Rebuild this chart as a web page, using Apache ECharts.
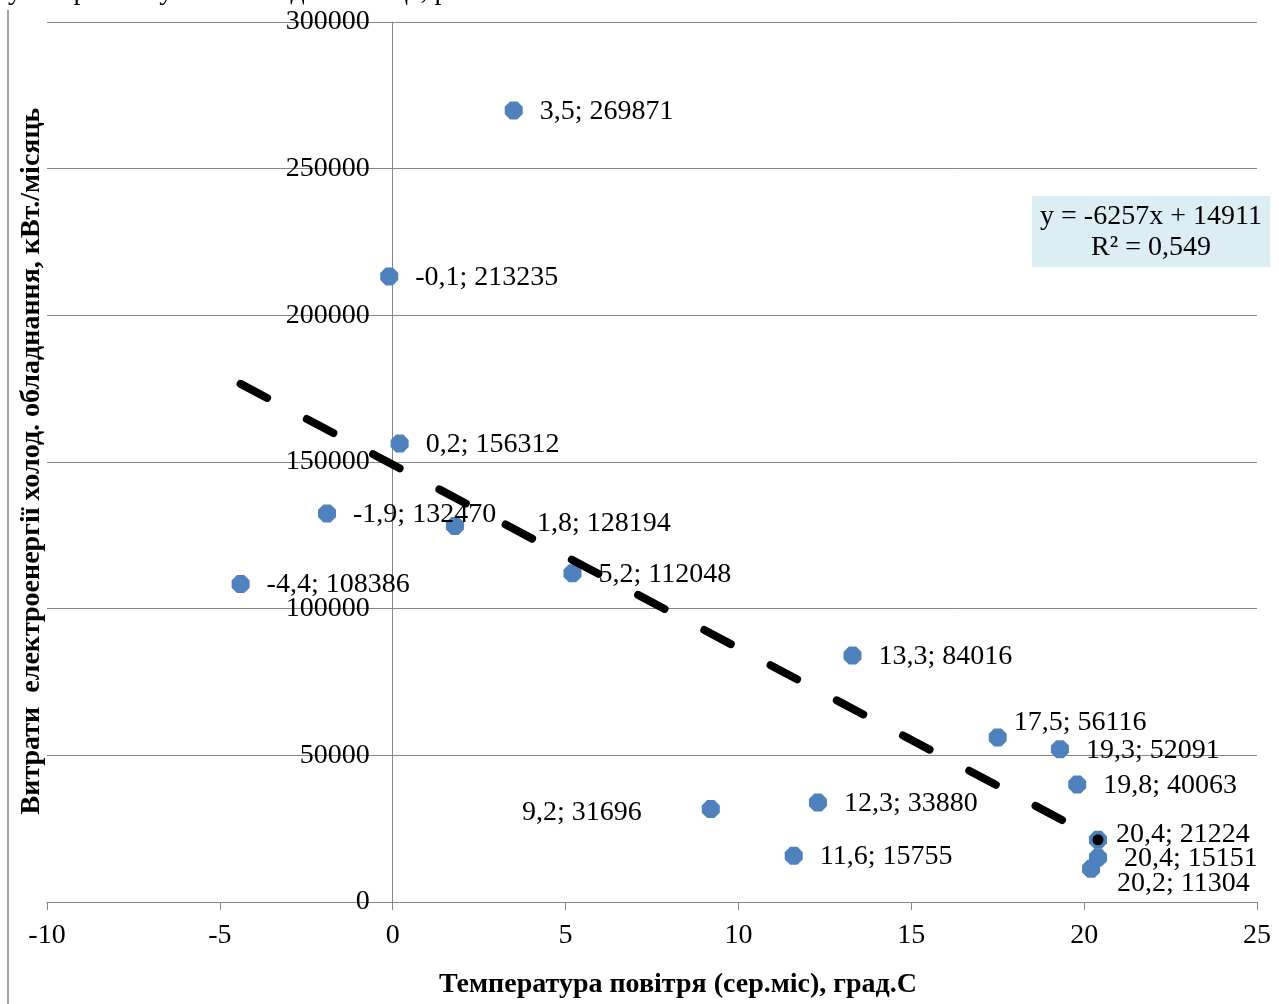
<!DOCTYPE html>
<html>
<head>
<meta charset="utf-8">
<script src="https://cdn.jsdelivr.net/npm/echarts@6/dist/echarts.min.js"></script>
<style>
  body { margin: 0; background: #fff; }
  #main { width: 1279px; height: 1004px; }
</style>
</head>
<body>
<div id="main"></div>
<script>
// дані: температура (сер.міс) та витрати електроенергії
const temps = [3.5, -0.1, 0.2, -1.9, 1.8, -4.4, 5.2, 13.3, 17.5, 19.3, 19.8, 9.2, 12.3, 11.6, 20.4, 20.4, 20.2];
const energy = [269871, 213235, 156312, 132470, 128194, 108386, 112048, 84016, 56116, 52091, 40063, 31696, 33880, 15755, 21224, 15151, 11304];
const xTicks = [-10, 25, 5];
const yTicks = [0, 300000, 50000];
// лінія тренду з підпису на діаграмі
const trendSlope = -6257;
const trendIntercept = 149110;
const trendText = ['y = -6257x + 14911', 'R² = 0,549'];
const markedIndex = 14;

// зсуви підписів (тільки стиль)
const labelShift = {
  4: { offset: [56, -2] },
  8: { offset: [-10, -15] },
  11: { position: 'left', offset: [-43, 4] },
  14: { offset: [-8, -5] },
  16: { offset: [0, 15] }
};

const font = 'Liberation Serif, Times New Roman, serif';
const fmt = v => String(v).replace('.', ',');

const gridLeft = 47, gridRight = 22;
const plotW = 1279 - gridLeft - gridRight;
// вісь Y перетинає X у нулі; підписи значень стоять біля неї
const yAxisPx = gridLeft + (0 - xTicks[0]) / (xTicks[1] - xTicks[0]) * plotW;

const myChart = echarts.init(document.getElementById('main'));

const points = temps.map((t, i) => {
  const s = labelShift[i] || {};
  return {
    value: [t, energy[i]],
    label: {
      position: s.position || 'right',
      offset: s.offset || [0, 1]
    }
  };
});

const xMinData = Math.min(...temps);
const xMaxData = Math.max(...temps);
const trendData = [
  [xMinData, trendSlope * xMinData + trendIntercept],
  [xMaxData, trendSlope * xMaxData + trendIntercept]
];

myChart.setOption({
  animation: false,
  grid: { left: gridLeft, right: gridRight, top: 22, bottom: 102, containLabel: false, outerBoundsMode: 'none' },
  xAxis: {
    type: 'value',
    min: xTicks[0], max: xTicks[1], interval: xTicks[2],
    axisLine: { onZero: true, lineStyle: { color: '#868686', width: 1 } },
    axisTick: { show: true, length: 8, lineStyle: { color: '#868686' } },
    splitLine: { show: false },
    axisLabel: { fontFamily: font, fontSize: 28, color: '#000', margin: 20 }
  },
  yAxis: {
    type: 'value',
    min: yTicks[0], max: yTicks[1], interval: yTicks[2],
    axisLine: { show: true, onZero: true, lineStyle: { color: '#868686', width: 1 } },
    axisTick: { show: false },
    splitLine: { lineStyle: { color: '#868686', width: 1 } },
    axisLabel: {
      fontFamily: font, fontSize: 28, color: '#000',
      margin: gridLeft - (yAxisPx - 23),
      formatter: v => String(v)
    }
  },
  series: [
    {
      type: 'scatter',
      data: points,
      symbol: 'path://M3,0 L7,0 L10,3 L10,7 L7,10 L3,10 L0,7 L0,3 Z',
      symbolSize: 18,
      itemStyle: { color: '#4F81BD', opacity: 1 },
      z: 2,
      label: {
        show: true,
        distance: 17,
        fontFamily: font,
        fontSize: 28,
        color: '#000',
        formatter: p => fmt(p.value[0]) + '; ' + p.value[1]
      }
    },
    {
      type: 'line',
      data: trendData,
      symbol: 'none',
      lineStyle: { color: '#000', width: 8, type: [30, 45], cap: 'round' },
      z: 3
    },
    {
      type: 'scatter',
      data: [[temps[markedIndex], energy[markedIndex]]],
      symbol: 'circle',
      symbolSize: 11,
      itemStyle: { color: '#000', opacity: 1 },
      z: 4
    }
  ],
  graphic: [
    {
      type: 'line',
      shape: { x1: 8, y1: 10, x2: 8, y2: 1004 },
      style: { stroke: '#868686', lineWidth: 1.5 }
    },
    {
      type: 'text',
      left: 8, top: -22,
      style: { text: 'умов розташування плодосховища, рис. 1.', font: '28px ' + font, fill: '#000' }
    },
    {
      type: 'rect',
      shape: { x: 1032, y: 196, width: 238, height: 71 },
      style: { fill: '#DBEEF4' }
    },
    {
      type: 'text',
      x: 1151, y: 217,
      style: { text: trendText[0], font: '28px ' + font, fill: '#000', align: 'center', verticalAlign: 'middle' }
    },
    {
      type: 'text',
      x: 1151, y: 248,
      style: { text: trendText[1], font: '28px ' + font, fill: '#000', align: 'center', verticalAlign: 'middle' }
    },
    {
      type: 'text',
      x: 678, y: 985,
      style: { text: 'Температура повітря (сер.міс), град.С', font: 'bold 28px ' + font, fill: '#000', align: 'center', verticalAlign: 'middle' }
    },
    {
      type: 'text',
      x: 32, y: 461,
      rotation: Math.PI / 2,
      style: { text: 'Витрати  електроенергії холод. обладнання, кВт./місяць', font: 'bold 28px ' + font, fill: '#000', align: 'center', verticalAlign: 'middle' }
    }
  ]
});
</script>
</body>
</html>
